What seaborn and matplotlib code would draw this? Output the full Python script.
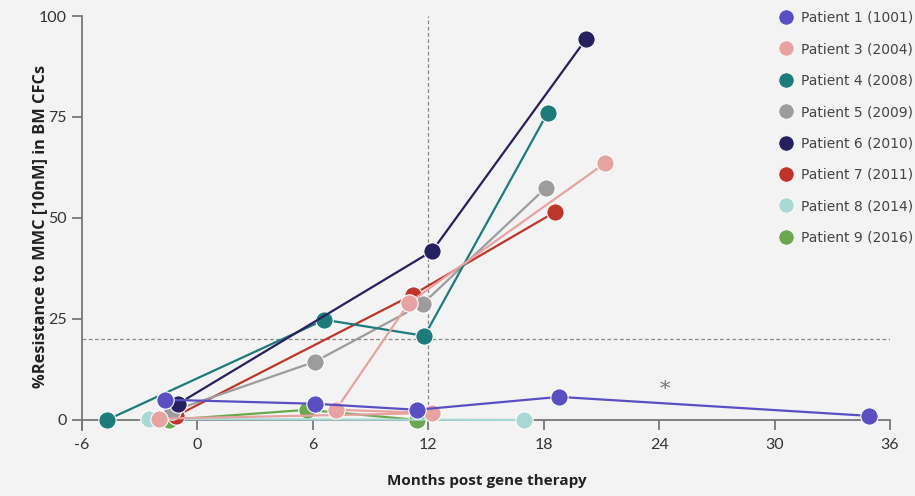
import matplotlib
matplotlib.use("Agg")
import matplotlib.pyplot as plt
from matplotlib.lines import Line2D
import seaborn as sns
import pandas as pd

# ---- data ----
patients = ["Patient 1 (1001)", "Patient 3 (2004)", "Patient 4 (2008)", "Patient 5 (2009)",
            "Patient 6 (2010)", "Patient 7 (2011)", "Patient 8 (2014)", "Patient 9 (2016)"]
colors = ["#5a4fc2", "#e7a2a2", "#1e7b7b", "#9c9c9c", "#26205e", "#c0352b", "#a9d9d5", "#6aa84f"]

p1_x = [-1.7, 6.1, 11.4, 18.8, 34.9]
p1_y = [5.0, 4.0, 2.5, 5.7, 1.0]
p3_x = [-2.0, 12.2, 7.2, 11.0, 21.2]
p3_y = [0.3, 1.7, 2.5, 29.0, 63.6]
p4_x = [-4.7, 6.6, 11.8, 18.2]
p4_y = [0.0, 24.8, 20.8, 76.0]
p5_x = [-1.3, 6.1, 11.7, 18.1]
p5_y = [2.2, 14.4, 28.7, 57.4]
p6_x = [-1.0, 12.2, 20.2]
p6_y = [4.0, 41.8, 94.3]
p7_x = [-1.1, 11.2, 18.6]
p7_y = [1.0, 31.0, 51.5]
p8_x = [-2.5, 17.0]
p8_y = [0.2, 0.0]
p9_x = [-1.5, 5.7, 11.4]
p9_y = [0.0, 2.5, 0.0]

xs = [p1_x, p3_x, p4_x, p5_x, p6_x, p7_x, p8_x, p9_x]
ys = [p1_y, p3_y, p4_y, p5_y, p6_y, p7_y, p8_y, p9_y]

x_ticks = [-6, 0, 6, 12, 18, 24, 30, 36]
y_ticks = [0, 25, 50, 75, 100]
threshold_y = 20
threshold_x = 12
asterisk_x, asterisk_y = 24.3, 7.5

rows = []
for name, xv, yv in zip(patients, xs, ys):
    for i, (a, b) in enumerate(zip(xv, yv)):
        rows.append({"patient": name, "order": i, "months": a, "resistance": b})
df = pd.DataFrame(rows)
palette = dict(zip(patients, colors))

# ---- figure ----
sns.set_theme(style="white")
plt.rcParams["font.family"] = ["Lato", "DejaVu Sans"]
bg = "#f3f3f3"
fig = plt.figure(figsize=(9.15, 4.96), dpi=100, facecolor=bg)
ax = fig.add_axes([82 / 915, 1 - 430 / 496, (890 - 82) / 915, (430 - 16) / 496])
ax.set_facecolor(bg)

ax.set_xlim(x_ticks[0], x_ticks[-1])
ax.set_ylim(-2.5, 100)
ax.hlines(threshold_y, x_ticks[0], x_ticks[-1], color="#888888", lw=0.9,
          linestyles=(0, (3, 2)), zorder=1, clip_on=True)
ax.vlines(threshold_x, -2.5, 100, color="#888888", lw=0.9,
          linestyles=(0, (3, 2)), zorder=1, clip_on=True)

draw_order = [patients[i] for i in [7, 6, 5, 3, 2, 1, 4, 0]]
for name in draw_order:
    sub = df[df.patient == name]
    sns.lineplot(data=sub, x="months", y="resistance", sort=False, color=palette[name],
                 marker="o", markersize=12.5, markeredgecolor="white", markeredgewidth=0.8,
                 linewidth=1.6, ax=ax, legend=False, clip_on=False, zorder=3)

ax.text(asterisk_x, asterisk_y, "*", color="#777777", fontsize=15, ha="center", va="center",
        family="DejaVu Serif")

ax.set_xlim(x_ticks[0], x_ticks[-1])
ax.set_ylim(-2.5, 100)
ax.set_xticks(x_ticks)
ax.set_yticks(y_ticks)
ax.set_xticklabels([str(t) for t in x_ticks])
ax.set_yticklabels([str(t) for t in y_ticks])

for s in ["top", "right"]:
    ax.spines[s].set_visible(False)
for s in ["left", "bottom"]:
    ax.spines[s].set_color("#777777")
    ax.spines[s].set_linewidth(1.3)
ax.spines["bottom"].set_position(("data", 0))
ax.tick_params(axis="both", direction="out", length=7, width=1.3, color="#777777",
               labelsize=11.5, labelcolor="#333333", pad=4, bottom=True, left=True)
ax.tick_params(axis="x", pad=6)

ax.set_xlabel("")
ax.set_ylabel("")
fig.text(487 / 915, 1 - 481 / 496, "Months post gene therapy", ha="center", va="center",
         fontsize=11, fontweight="bold", color="#222222", family=["Open Sans", "DejaVu Sans"])
fig.text(40 / 915, 1 - 226 / 496, "%Resistance to MMC [10nM] in BM CFCs", ha="center",
         va="center", rotation=90, fontsize=11.8, fontweight="bold", color="#222222",
         family=["Open Sans", "DejaVu Sans"])

handles = [Line2D([], [], marker="o", ls="none", color=c, markersize=11,
                  markeredgecolor="white", markeredgewidth=0.5) for c in colors]
leg = fig.legend(handles, patients, loc="upper left", bbox_to_anchor=(772 / 915, 1 - 4 / 496),
                 frameon=False, labelspacing=1.25, handlelength=1.0,
                 handletextpad=0.6, borderpad=0, prop={"family": "DejaVu Sans", "size": 10})
for t in leg.get_texts():
    t.set_color("#444444")

fig.savefig("out.png", dpi=100, facecolor=bg)
